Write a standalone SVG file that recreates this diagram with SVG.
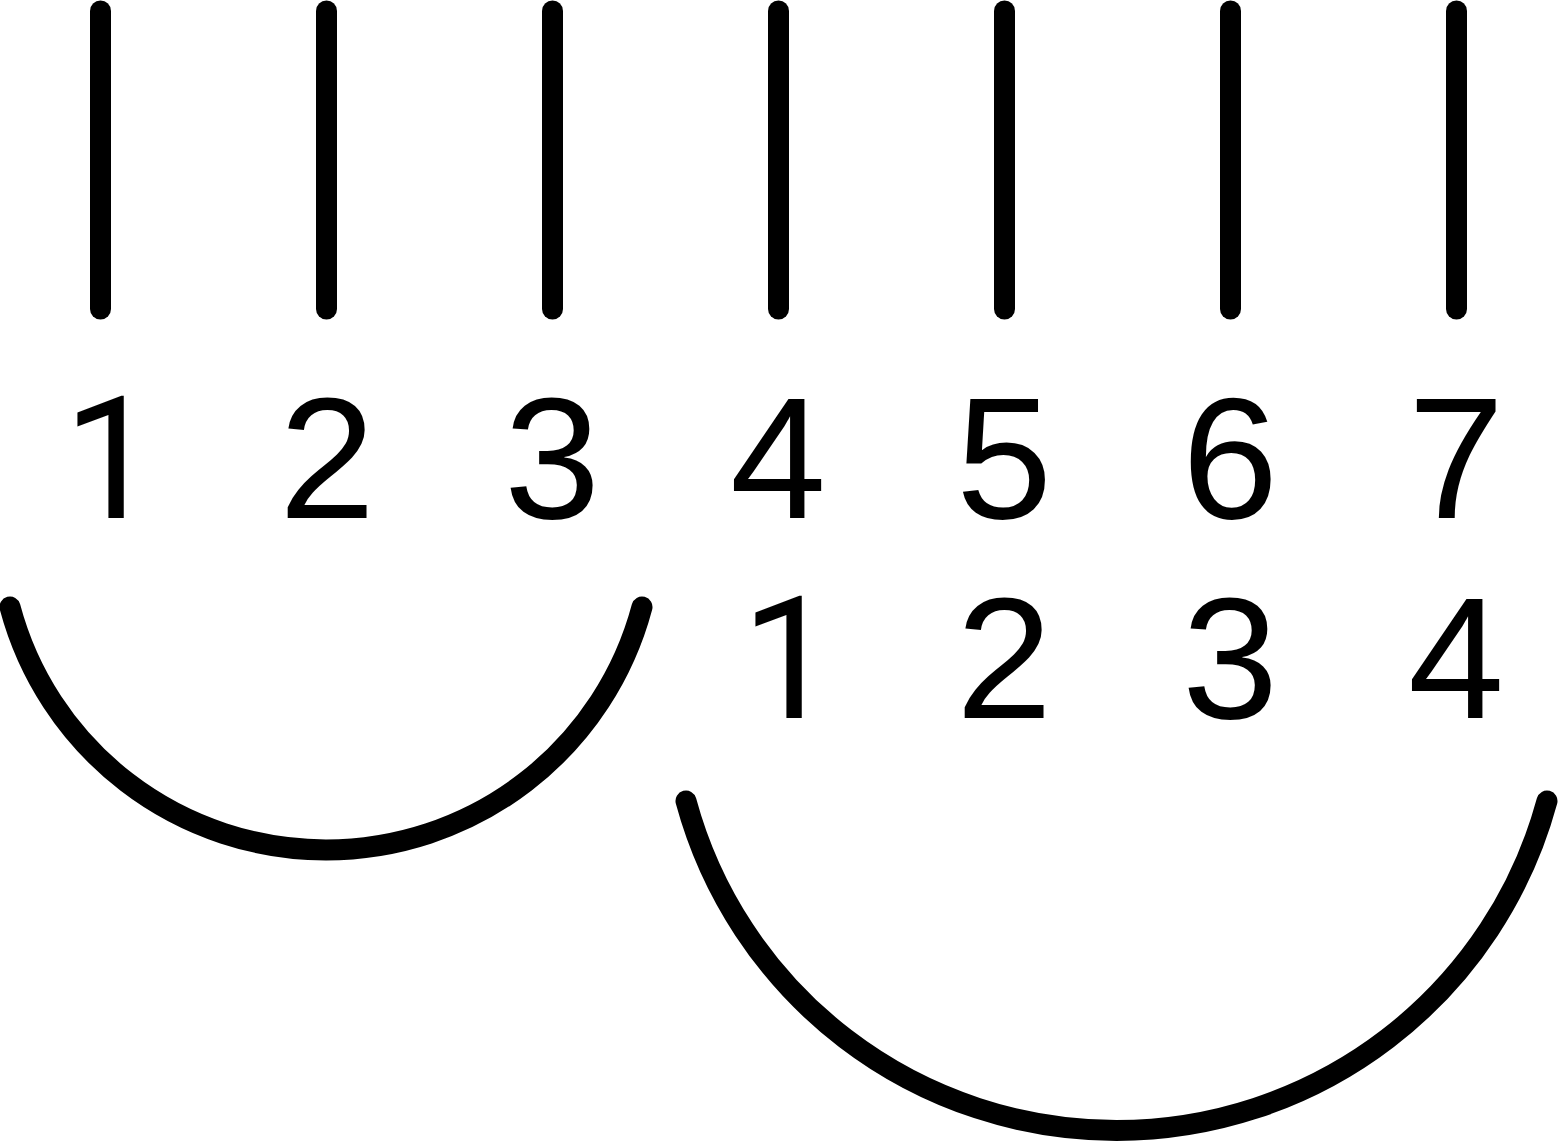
<svg xmlns="http://www.w3.org/2000/svg" width="1558" height="1143" viewBox="0 0 1558 1143">
<style>
.ln{stroke:#000;stroke-width:21;stroke-linecap:round;fill:none}
.num{font-family:"Liberation Sans",Arial,sans-serif;font-size:173px;fill:#000;text-anchor:middle}
.one{font-family:Roboto,"Liberation Sans",Arial,sans-serif;font-size:170px;fill:#000;text-anchor:middle}
</style>
<rect width="1558" height="1143" fill="#fff"/>
<g id="connectors">
<line class="ln" x1="100.5" y1="11" x2="100.5" y2="309"/>
<line class="ln" x1="326.5" y1="11" x2="326.5" y2="309"/>
<line class="ln" x1="552.5" y1="11" x2="552.5" y2="309"/>
<line class="ln" x1="778.5" y1="11" x2="778.5" y2="309"/>
<line class="ln" x1="1004.5" y1="11" x2="1004.5" y2="309"/>
<line class="ln" x1="1230.5" y1="11" x2="1230.5" y2="309"/>
<line class="ln" x1="1456.5" y1="11" x2="1456.5" y2="309"/>
<path id="arc1" class="ln" d="M10 607 A327 327 0 0 0 642 607"/>
<path id="arc2" class="ln" d="M686 801 A446 446 0 0 0 1547 801"/>
</g>
<g id="top-labels">
<text class="one" x="111" y="518">1</text>
<text class="num" x="327" y="518">2</text>
<text class="num" x="552" y="518">3</text>
<text class="num" x="778" y="518">4</text>
<text class="num" x="1004" y="518">5</text>
<text class="num" x="1230" y="518">6</text>
<text class="num" x="1456" y="518">7</text>
</g>
<g id="bottom-labels">
<text class="one" x="789" y="718">1</text>
<text class="num" x="1004" y="718">2</text>
<text class="num" x="1230" y="718">3</text>
<text class="num" x="1456" y="718">4</text>
</g>
</svg>
